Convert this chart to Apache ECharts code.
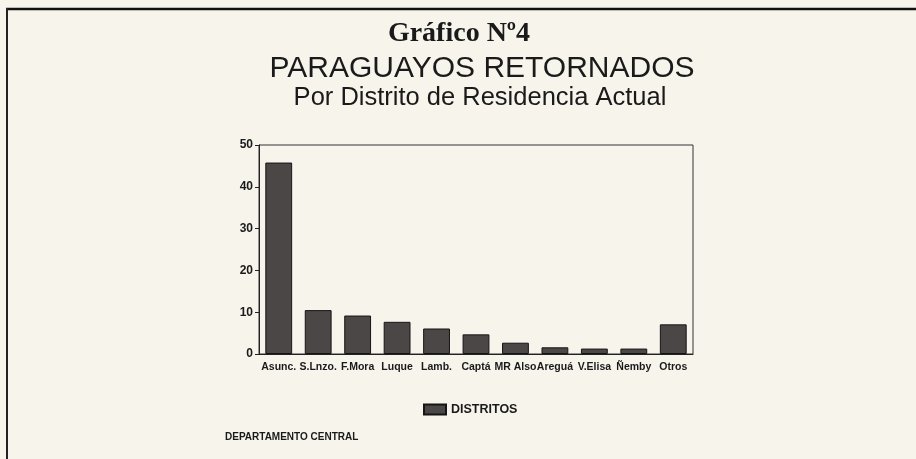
<!DOCTYPE html>
<html>
<head>
<meta charset="utf-8">
<script src="https://cdn.jsdelivr.net/npm/echarts@6/dist/echarts.min.js"></script>
<style>
html,body{margin:0;padding:0;background:#f7f4ec;}
#c{width:916px;height:459px;}
</style>
</head>
<body>
<div id="c"></div>
<script>
const categories = ['Asunc.', 'S.Lnzo.', 'F.Mora', 'Luque', 'Lamb.', 'Captá', 'MR Also', 'Areguá', 'V.Elisa', 'Ñemby', 'Otros'];
const values = [45.8, 10.5, 9.2, 7.7, 6.1, 4.7, 2.7, 1.6, 1.3, 1.3, 7.1];
const seriesName = 'DISTRITOS';
const yTicks = [0, 10, 20, 30, 40, 50];

const chart = echarts.init(document.getElementById('c'), null, {renderer: 'canvas'});
chart.setOption({
  backgroundColor: '#f7f4ec',
  animation: false,
  title: [
    {text: 'Gráfico Nº4', left: 454, top: 15, textAlign: 'center',
     textStyle: {fontFamily: 'Liberation Serif', fontWeight: 'bold', fontSize: 28, color: '#1a1a1a'}},
    {text: 'PARAGUAYOS RETORNADOS', left: 477, top: 49, textAlign: 'center',
     textStyle: {fontFamily: 'Liberation Sans', fontWeight: 'normal', fontSize: 30, color: '#1a1a1a'}},
    {text: 'Por Distrito de Residencia Actual', left: 475, top: 80, textAlign: 'center',
     textStyle: {fontFamily: 'Liberation Sans', fontWeight: 'normal', fontSize: 25.5, color: '#1a1a1a'}}
  ],
  legend: {
    data: [seriesName], left: 418, top: 398, icon: 'rect', itemWidth: 22, itemHeight: 10, itemGap: 4,
    textStyle: {fontFamily: 'Liberation Sans', fontWeight: 'bold', fontSize: 12.5, color: '#1a1a1a'}
  },
  grid: {left: 259, right: 223, top: 145, bottom: 105, show: true, borderColor: '#333', borderWidth: 1, backgroundColor: 'transparent'},
  xAxis: {
    type: 'category', data: categories,
    axisLine: {lineStyle: {color: '#222', width: 1}},
    axisTick: {show: false},
    axisLabel: {interval: 0, margin: 8, color: '#1a1a1a', fontFamily: 'Liberation Sans', fontWeight: 'bold', fontSize: 10.5}
  },
  yAxis: {
    type: 'value', min: yTicks[0], max: yTicks[yTicks.length - 1], interval: 10,
    splitLine: {show: false},
    axisLine: {show: true, lineStyle: {color: '#222', width: 1}},
    axisTick: {show: true, length: 4, lineStyle: {color: '#222'}},
    axisLabel: {margin: 6, color: '#1a1a1a', fontFamily: 'Liberation Sans', fontWeight: 'bold', fontSize: 12}
  },
  series: [{
    name: seriesName, type: 'bar', data: values, barWidth: '68%',
    itemStyle: {color: '#4b4747', borderColor: '#151515', borderWidth: 1}
  }],
  graphic: [
    {type: 'line', shape: {x1: 6, y1: 9, x2: 916, y2: 9}, style: {stroke: '#111', lineWidth: 2.5}},
    {type: 'line', shape: {x1: 7, y1: 8, x2: 7, y2: 459}, style: {stroke: '#222', lineWidth: 2}},
    {type: 'text', left: 225, top: 432, style: {text: 'DEPARTAMENTO CENTRAL', fill: '#1a1a1a', font: 'bold 10px "Liberation Sans"'}}
  ]
});
</script>
</body>
</html>
